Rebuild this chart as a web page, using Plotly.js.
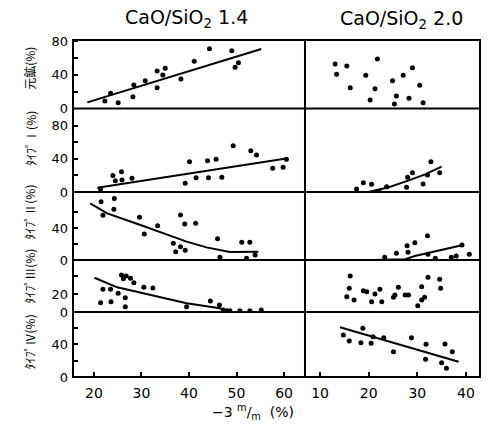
<!DOCTYPE html>
<html>
<head>
<meta charset="utf-8">
<script src="https://cdn.plot.ly/plotly-3.0.1.min.js"></script>
<style>html,body{margin:0;padding:0;background:#fff;}#chart{width:490px;height:425px;}</style>
</head>
<body>
<div id="chart"></div>
<script>
// ---- Data ----
const panelTitles = ["CaO/SiO<sub>2</sub> 1.4", "CaO/SiO<sub>2</sub> 2.0"];
const rowLabels = ["元鉱(%)", "ﾀｲﾌﾟⅠ(%)", "ﾀｲﾌﾟⅡ(%)", "ﾀｲﾌﾟⅢ(%)", "ﾀｲﾌﾟⅣ(%)"];
const xTitle = "−3 <sup>m</sup>/<sub>m</sub>  (%)";
const leftTickVals = [20, 30, 40, 50, 60];
const rightTickVals = [10, 20, 30, 40];

// Row 1: original ore
const r1LeftX = [22.3, 23.5, 25.1, 28.2, 28.4, 30.8, 33.3, 33.3, 34.5, 35.0, 38.3, 41.1, 44.3, 49.0, 49.7, 50.4];
const r1LeftY = [8.9, 18, 6.9, 14, 27.8, 33, 24.7, 44.4, 39.7, 47.6, 35, 56, 70.9, 68.5, 48.8, 54.3];
const r1LeftLineX = [18.6, 55.2];
const r1LeftLineY = [7.3, 70.5];
const r1RightX = [13.1, 13.4, 15.5, 16.2, 19.4, 21.3, 21.8, 20.3, 24.9, 25.7, 25.3, 27.1, 29.0, 28.3, 30.5, 31.2];
const r1RightY = [52.7, 40.5, 50.4, 24.7, 39.3, 23.5, 58.7, 10, 33, 14.8, 5.3, 39.3, 48.4, 12.1, 27.5, 6.9];

// Row 2: type I
const r2LeftX = [21.4, 24.0, 24.5, 25.9, 25.8, 28.0, 39.2, 40.1, 41.5, 43.9, 44.1, 45.7, 46.9, 49.3, 53.0, 54.2, 57.6, 59.8, 60.5];
const r2LeftY = [3.6, 19.8, 13.7, 14.5, 24.6, 16.6, 10.5, 36.7, 17.3, 37.9, 17.3, 39.6, 17.8, 55.8, 50, 44.8, 28.7, 29.9, 39.6];
const r2LeftLineX = [20.7, 60.8];
const r2LeftLineY = [5.2, 40.8];
const r2RightX = [17.5, 18.9, 20.6, 22.1, 23.7, 27.8, 28.0, 29.0, 31.2, 32.1, 32.8, 34.6];
const r2RightY = [3.6, 11.3, 9.3, 0.5, 6.4, 5.7, 17.8, 23.4, 9.7, 20.6, 36.7, 23.4];
const r2RightLineX = [19.9, 24.0, 27.5, 31.5, 35.0];
const r2RightLineY = [0, 5.5, 12.5, 21, 30.7];

// Row 3: type II
const r3LeftX = [21.5, 24.3, 21.9, 24.2, 29.6, 30.6, 33.4, 38.2, 39.1, 41.4, 36.7, 38.2, 37.2, 39.2, 46.0, 46.5, 51.1, 52.8, 52.1, 53.9];
const r3LeftY = [72.9, 77, 56, 63.3, 53.3, 32.5, 42.9, 56.3, 45, 45.8, 20.8, 16.7, 10.4, 12.1, 26.7, 3.3, 22.1, 22.1, 2.1, 6.3];
const r3LeftLineX = [19.2, 22.8, 29.8, 39.5, 43.7, 48.6, 54.6];
const r3LeftLineY = [70.8, 58.3, 43.8, 22.9, 15.8, 10, 10.4];
const r3RightX = [23.3, 25.7, 28.1, 27.9, 29.5, 32.1, 32.2, 33.7, 37.0, 38.0, 39.2, 40.7];
const r3RightY = [3.3, 8.3, 9.6, 17.9, 21.7, 30.4, 7.1, 2.1, 3.3, 5, 18.8, 7.1];
const r3RightLineX = [20.6, 27.5, 29.5, 34.3, 39.4];
const r3RightLineY = [0, 0.9, 5, 11.7, 18.8];

// Row 4: type III
const r4LeftX = [25.8, 26.8, 26.2, 28.4, 27.7, 30.5, 32.4, 21.9, 23.5, 25.1, 21.4, 23.6, 26.6, 26.6, 39.5, 44.5, 46.4, 47.2, 47.9, 48.6, 50.7, 52.8, 55.2];
const r4LeftY = [41, 40, 37, 32.6, 37.4, 27.4, 26.7, 25.2, 25.2, 20.7, 10.4, 11.5, 15.9, 5.9, 5.9, 12.2, 7.8, 2.2, 1.4, 1.4, 1.4, 1.4, 2.2];
const r4LeftLineX = [20.1, 24.9, 39.5, 46.5, 47.9];
const r4LeftLineY = [38.1, 27.4, 9.7, 4.1, 1.4];
const r4RightX = [16.2, 16.0, 15.5, 17.0, 18.9, 19.6, 21.3, 22.3, 20.6, 22.7, 25.1, 26.1, 25.4, 27.5, 28.2, 30.9, 32.2, 34.6, 34.8, 31.5, 30.9, 30.1];
const r4RightY = [40, 26.3, 17, 13.3, 23.7, 22.6, 20, 25.2, 11.5, 11.5, 16.3, 27.4, 18.9, 18.9, 18.9, 28.1, 38.6, 36.3, 26.3, 16.3, 13.3, 7];

// Row 5: type IV
const r5RightX = [14.8, 16.0, 18.8, 18.4, 20.5, 20.9, 23.1, 25.1, 28.8, 31.8, 31.7, 35.7, 37.2, 35.0, 36.0];
const r5RightY = [51.7, 44.3, 59.9, 42.2, 41.5, 49.6, 48.4, 31.1, 48.4, 40.2, 21.8, 40.6, 31.1, 17.6, 10.7];
const r5RightLineX = [14.1, 38.5];
const r5RightLineY = [61.2, 18.8];

// ---- Layout helpers ----
const rowDomains = [[0.7967, 1], [0.549, 0.7967], [0.3472, 0.549], [0.1929, 0.3472], [0, 0.1929]];
const rowRanges = [[0, 81.2], [0, 101], [0, 85], [0, 57.8], [0, 80]];
const rowLabelTicks = [[0, 40, 80], [0, 40, 80], [0, 40], [0, 20], [0, 40]];
const rowMinorTicks = [[20, 60], [20, 60], [20, 60], [40], [20, 60]];
const rowAllTicks = [[20, 40, 60, 80], [20, 40, 60, 80], [20, 40, 60, 80], [20, 40], [20, 40, 60]];
const xSplit = 0.570;

const tickFont = {family: "DejaVu Sans", size: 13, color: "#000"};
const dot = {color: "#000", size: 5};
const ln = {color: "#000", width: 2};

function pts(x, y, xa, ya) { return {x: x, y: y, xaxis: xa, yaxis: ya, mode: "markers", type: "scatter", marker: dot, hoverinfo: "none", showlegend: false}; }
function line(x, y, xa, ya) { return {x: x, y: y, xaxis: xa, yaxis: ya, mode: "lines", type: "scatter", line: ln, hoverinfo: "none", showlegend: false}; }

const data = [
  pts(r1LeftX, r1LeftY, "x", "y"), line(r1LeftLineX, r1LeftLineY, "x", "y"),
  pts(r1RightX, r1RightY, "x2", "y"),
  pts(r2LeftX, r2LeftY, "x", "y2"), line(r2LeftLineX, r2LeftLineY, "x", "y2"),
  pts(r2RightX, r2RightY, "x2", "y2"), line(r2RightLineX, r2RightLineY, "x2", "y2"),
  pts(r3LeftX, r3LeftY, "x", "y3"), line(r3LeftLineX, r3LeftLineY, "x", "y3"),
  pts(r3RightX, r3RightY, "x2", "y3"), line(r3RightLineX, r3RightLineY, "x2", "y3"),
  pts(r4LeftX, r4LeftY, "x", "y4"), line(r4LeftLineX, r4LeftLineY, "x", "y4"),
  pts(r4RightX, r4RightY, "x2", "y4"),
  pts(r5RightX, r5RightY, "x2", "y5"), line(r5RightLineX, r5RightLineY, "x2", "y5")
];

const xFont = {family: "DejaVu Sans", size: 14, color: "#000"};
const layout = {
  width: 490, height: 425,
  margin: {l: 73, r: 10, t: 40, b: 48},
  paper_bgcolor: "#fff", plot_bgcolor: "#fff",
  showlegend: false,
  xaxis: {domain: [0, xSplit], range: [15.6, 64.4], anchor: "y5", tickvals: leftTickVals, ticks: "inside", ticklen: 5, tickwidth: 2, tickcolor: "#000",
          showgrid: false, zeroline: false, showline: false, tickfont: xFont, ticklabelstandoff: 6},
  xaxis2: {domain: [xSplit, 1], range: [6.9, 42.9], anchor: "y5", tickvals: rightTickVals, ticks: "inside", ticklen: 5, tickwidth: 2, tickcolor: "#000",
          showgrid: false, zeroline: false, showline: false, tickfont: xFont, ticklabelstandoff: 6},
  shapes: [],
  annotations: []
};

for (let i = 0; i < 5; i++) {
  const key = i === 0 ? "yaxis" : "yaxis" + (i + 1);
  layout[key] = {domain: rowDomains[i], range: rowRanges[i], anchor: "x", tickvals: rowLabelTicks[i],
    ticks: "inside", ticklen: 5, tickwidth: 2, tickcolor: "#000", showgrid: false, zeroline: false, showline: false,
    tickfont: tickFont, ticklabelstandoff: 4,
    minor: {tickvals: rowMinorTicks[i], ticks: "inside", ticklen: 5, tickwidth: 2, tickcolor: "#000", showgrid: false}};
  const rk = "yaxis" + (i + 6);
  layout[rk] = {overlaying: i === 0 ? "y" : "y" + (i + 1), range: rowRanges[i], anchor: "free", position: 1, side: "right",
    tickvals: rowAllTicks[i], ticks: "inside", ticklen: 4, tickwidth: 2, tickcolor: "#000", showticklabels: false,
    showgrid: false, zeroline: false, showline: false};
}

// frame and dividers
layout.shapes.push({type: "rect", xref: "paper", yref: "paper", x0: 0, x1: 1, y0: 0, y1: 1, line: {color: "#000", width: 2}});
layout.shapes.push({type: "line", xref: "paper", yref: "paper", x0: xSplit, x1: xSplit, y0: 0, y1: 1, line: {color: "#000", width: 2}});
for (let i = 0; i < 4; i++) {
  layout.shapes.push({type: "line", xref: "paper", yref: "paper", x0: 0, x1: 1, y0: rowDomains[i][0], y1: rowDomains[i][0], line: {color: "#000", width: 2}});
}

// titles
layout.annotations.push({text: panelTitles[0], xref: "paper", yref: "paper", x: 0.28, y: 1.065, showarrow: false, xanchor: "center", yanchor: "middle",
  font: {family: "DejaVu Sans", size: 19, color: "#000"}});
layout.annotations.push({text: panelTitles[1], xref: "paper", yref: "paper", x: 0.808, y: 1.06, showarrow: false, xanchor: "center", yanchor: "middle",
  font: {family: "DejaVu Sans", size: 19, color: "#000"}});
layout.annotations.push({text: xTitle, xref: "paper", yref: "paper", x: 0.442, y: -0.104, showarrow: false, xanchor: "center", yanchor: "middle",
  font: {family: "DejaVu Sans", size: 14, color: "#000"}});
const labelY = [0.917, 0.709, 0.49, 0.30, 0.105];
for (let i = 0; i < 5; i++) {
  layout.annotations.push({text: rowLabels[i], xref: "paper", yref: "paper", x: -0.106, y: labelY[i], showarrow: false, textangle: -90,
    xanchor: "center", yanchor: "middle", font: {family: "Noto Sans CJK JP", size: 12, color: "#000"}});
}

Plotly.newPlot("chart", data, layout, {staticPlot: true, displayModeBar: false});
</script>
</body>
</html>
